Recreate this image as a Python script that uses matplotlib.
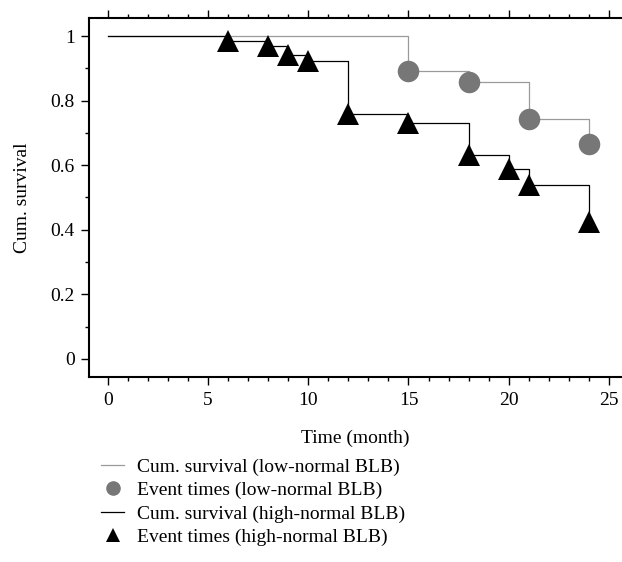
import matplotlib
matplotlib.use("Agg")
import matplotlib.pyplot as plt
from matplotlib.lines import Line2D
from matplotlib.ticker import MultipleLocator

plt.rcParams["font.family"] = ["Liberation Serif", "DejaVu Serif"]
plt.rcParams["font.size"] = 14

# ----------------------------
# Data
# ----------------------------
low_times = [0, 15, 18, 21, 24]
low_surv = [1.0, 0.892, 0.858, 0.742, 0.667]

high_times = [0, 6, 8, 9, 10, 12, 15, 18, 20, 21, 24]
high_surv = [1.0, 0.985, 0.969, 0.940, 0.922, 0.759, 0.731, 0.633, 0.587, 0.540, 0.424]

legend_labels = [
    "Cum. survival (low-normal BLB)",
    "Event times (low-normal BLB)",
    "Cum. survival (high-normal BLB)",
    "Event times (high-normal BLB)",
]

LOW_LINE = "#9a9a9a"
LOW_MARK = "#777777"

fig = plt.figure(figsize=(6.22, 5.62), dpi=100)
ax = fig.add_axes([89.3 / 622, 1 - 377 / 562, 1 - 89.3 / 622, (377 - 18.3) / 562])

ax.step(low_times, low_surv, where="post", color=LOW_LINE, lw=0.9)
ax.step(high_times, high_surv, where="post", color="black", lw=0.9)
ax.plot(low_times[1:], low_surv[1:], "o", color=LOW_MARK, ms=15.5, mew=0, zorder=3)
ax.plot(high_times[1:], high_surv[1:], "^", color="black", ms=16.5, mew=0, zorder=3)

ax.set_xlim(-0.92, 25.65)
ax.set_ylim(-0.056, 1.055)
ax.xaxis.set_major_locator(MultipleLocator(5))
ax.xaxis.set_minor_locator(MultipleLocator(1))
ax.yaxis.set_minor_locator(MultipleLocator(0.1))
ax.set_yticks([0, 0.2, 0.4, 0.6, 0.8, 1.0])
ax.set_yticklabels(["0", "0.2", "0.4", "0.6", "0.8", "1"])

ax.spines["right"].set_visible(False)
for s in ["left", "bottom", "top"]:
    ax.spines[s].set_linewidth(1.5)

ax.tick_params(axis="x", which="both", direction="out", top=True, bottom=True, width=1.0)
ax.tick_params(axis="x", which="major", length=5.5, pad=5)
ax.tick_params(axis="x", which="minor", length=2.6)
ax.tick_params(axis="y", which="both", direction="out", left=True, width=1.0)
ax.tick_params(axis="y", which="major", length=5.5, pad=5)
ax.tick_params(axis="y", which="minor", length=2.6)

ax.set_xlabel("Time (month)", labelpad=15)
ax.set_ylabel("Cum. survival", labelpad=14)

handles = [
    Line2D([], [], color=LOW_LINE, lw=0.9),
    Line2D([], [], ls="", marker="o", color=LOW_MARK, ms=10.5, mew=0),
    Line2D([], [], color="black", lw=0.9),
    Line2D([], [], ls="", marker="^", color="black", ms=10.5, mew=0),
]
fig.legend(handles, legend_labels, loc="upper left",
           bbox_to_anchor=(101 / 622, 1 - 458 / 562),
           frameon=False, borderpad=0, borderaxespad=0,
           handlelength=1.2, handletextpad=0.65, labelspacing=0.3,
           fontsize=14)

fig.savefig("out.png", dpi=100)
